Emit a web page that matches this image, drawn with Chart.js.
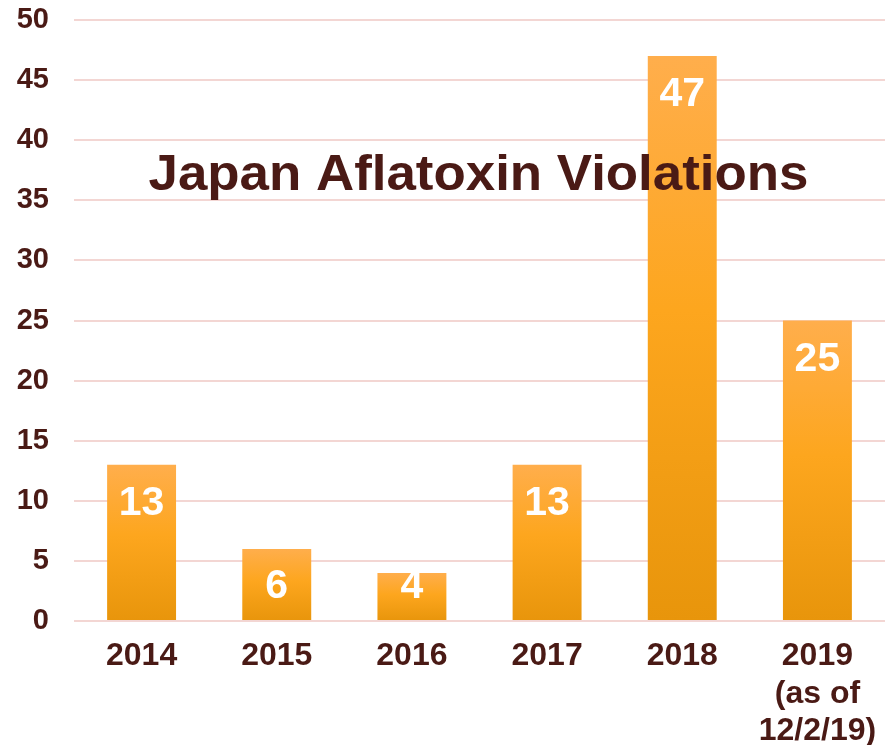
<!DOCTYPE html>
<html>
<head>
<meta charset="utf-8">
<script src="https://cdn.jsdelivr.net/npm/chart.js@4"></script>
<style>
  html, body { margin: 0; padding: 0; background: #fff; }
  #wrap { width: 888px; height: 745px; position: relative; }
</style>
</head>
<body>
<div id="wrap"><canvas id="chart"></canvas></div>
<script>
const years = ['2014', '2015', '2016', '2017', '2018', ['2019', '(as of', '12/2/19)']];
const violations = [13, 6, 4, 13, 47, 25];
const yTicks = [0, 5, 10, 15, 20, 25, 30, 35, 40, 45, 50];
const chartTitle = 'Japan Aflatoxin Violations';

const brown = '#4a1a15';
const gridPink = '#f3d6d3';
const fontFam = '"Liberation Sans", Arial, sans-serif';

// gradient per bar, light on top, darker at the base
function barFill(context) {
    const chart = context.chart;
    const y = chart.scales.y;
    if (!y || context.type !== 'data') return '#fca51c';
    const top = y.getPixelForValue(context.raw);
    const base = y.getPixelForValue(0);
    if (!isFinite(top) || !isFinite(base) || top === base) return '#fca51c';
    const g = chart.ctx.createLinearGradient(0, top, 0, base);
    g.addColorStop(0, '#ffae4c');
    g.addColorStop(0.45, '#fda61e');
    g.addColorStop(1, '#e8950b');
    return g;
}

const labelsAndTitle = {
    id: 'labelsAndTitle',
    afterDatasetsDraw(chart) {
        const { ctx, chartArea } = chart;
        const meta = chart.getDatasetMeta(0);
        const base = chart.scales.y.getPixelForValue(0);
        ctx.save();
        ctx.fillStyle = '#ffffff';
        ctx.font = 'bold 41px ' + fontFam;
        ctx.textAlign = 'center';
        ctx.textBaseline = 'middle';
        meta.data.forEach((bar, i) => {
            const y = Math.min(bar.y + 38, base - 35);
            ctx.fillText(String(violations[i]), bar.x, y + 1);
        });

        // title sits inside the plot, over the bars
        ctx.fillStyle = brown;
        ctx.font = 'bold 50px ' + fontFam;
        ctx.textBaseline = 'alphabetic';
        const w = ctx.measureText(chartTitle).width;
        const sx = 660 / w;
        const cx = (chartArea.left + chartArea.right) / 2 - 1;
        ctx.translate(cx, 190);
        ctx.scale(sx, 1);
        ctx.fillText(chartTitle, 0, 0);
        ctx.restore();
    }
};

const chart = new Chart(document.getElementById('chart'), {
    type: 'bar',
    data: {
        labels: years,
        datasets: [{
            data: violations,
            backgroundColor: barFill,
            borderWidth: 0,
            categoryPercentage: 1,
            barPercentage: 0.51
        }]
    },
    options: {
        responsive: true,
        maintainAspectRatio: false,
        animation: false,
        layout: { padding: { top: 20, right: 3, left: 0, bottom: 0 } },
        plugins: {
            legend: { display: false },
            title: { display: false },
            tooltip: { enabled: false }
        },
        scales: {
            x: {
                grid: { display: false, drawTicks: false },
                border: { display: false },
                ticks: {
                    color: brown,
                    font: { family: fontFam, size: 32, weight: 'bold', lineHeight: 1.16 },
                    padding: 17,
                    maxRotation: 0,
                    autoSkip: false
                },
                afterFit(scale) {
                    scale.height = 124;
                    scale.paddingLeft = 0;
                    scale.paddingRight = 0;
                }
            },
            y: {
                min: 0,
                max: 50,
                afterBuildTicks(scale) { scale.ticks = yTicks.map(v => ({ value: v })); },
                grid: { color: gridPink, lineWidth: 2, drawTicks: false },
                border: { display: false },
                ticks: {
                    color: brown,
                    font: { family: fontFam, size: 29, weight: 'bold' },
                    padding: 25
                },
                afterFit(scale) {
                    scale.width = 74;
                    scale.paddingTop = 0;
                    scale.paddingBottom = 0;
                }
            }
        }
    },
    plugins: [labelsAndTitle]
});
// second pass so the gradients are built on laid-out scales
chart.update();
</script>
</body>
</html>
